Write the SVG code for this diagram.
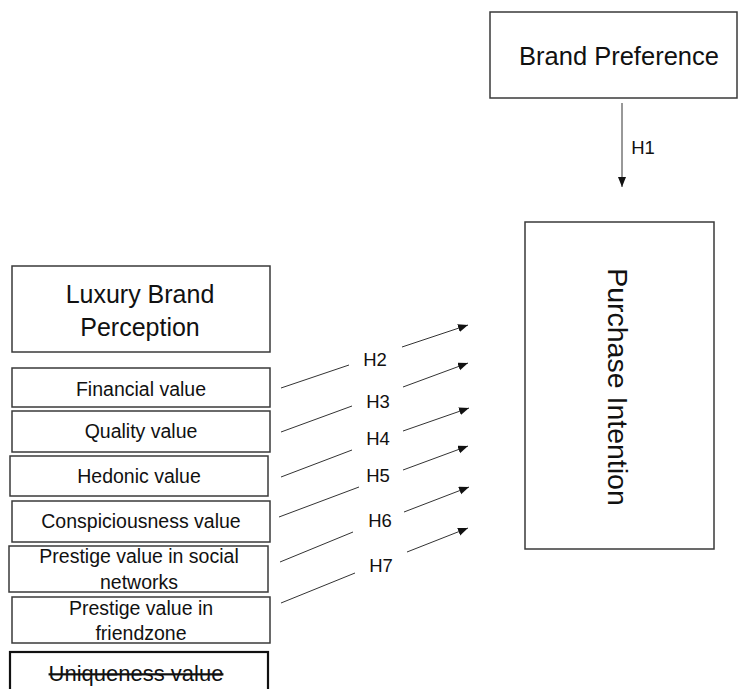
<svg xmlns="http://www.w3.org/2000/svg" width="739" height="689" viewBox="0 0 739 689">
<style>
.box{fill:#fff;stroke:#3a3a3a;stroke-width:1.5}
.t{font-family:"Liberation Sans",Arial,sans-serif;fill:#111;text-anchor:middle}
.s{font-size:19.5px}
.c{stroke:#333;stroke-width:1;fill:none}
.lab{font-family:"Liberation Sans",Arial,sans-serif;font-size:18.5px;fill:#111;text-anchor:middle}
</style>
<defs>
<marker id="ah" markerUnits="userSpaceOnUse" markerWidth="11" markerHeight="9" refX="10" refY="4" orient="auto">
<path d="M0,0 L10,4 L0,8 z" fill="#111"/>
</marker>
</defs>
<rect width="739" height="689" fill="#fff"/>
<g id="brand-preference">
<rect class="box" x="490" y="12" width="247" height="86"/>
<text class="t" x="619" y="65" font-size="25.5">Brand Preference</text>
</g>
<g id="purchase-intention">
<rect class="box" x="525" y="222" width="189" height="327"/>
<text class="t" x="608" y="387" font-size="28.5" transform="rotate(90 608 387)">Purchase Intention</text>
</g>
<g id="luxury-brand-perception">
<rect class="box" x="12" y="266" width="258" height="86"/>
<text class="t" x="140" y="303" font-size="25">Luxury Brand</text>
<text class="t" x="140" y="336" font-size="25">Perception</text>
</g>
<g id="financial-value">
<rect class="box" x="12" y="368" width="258" height="39"/>
<text class="t s" x="141" y="396">Financial value</text>
</g>
<g id="quality-value">
<rect class="box" x="12" y="411" width="258" height="41"/>
<text class="t s" x="141" y="438">Quality value</text>
</g>
<g id="hedonic-value">
<rect class="box" x="10" y="456" width="258" height="40"/>
<text class="t s" x="139" y="483">Hedonic value</text>
</g>
<g id="conspiciousness-value">
<rect class="box" x="12" y="501" width="258" height="41"/>
<text class="t s" x="141" y="528">Conspiciousness value</text>
</g>
<g id="prestige-social">
<rect class="box" x="9" y="546" width="259" height="46"/>
<text class="t s" x="139" y="563">Prestige value in social</text>
<text class="t s" x="139" y="589">networks</text>
</g>
<g id="prestige-friendzone">
<rect class="box" x="12" y="597" width="258" height="46"/>
<text class="t s" x="141" y="615">Prestige value in</text>
<text class="t s" x="141" y="640">friendzone</text>
</g>
<g id="uniqueness-value">
<rect x="10" y="652" width="258" height="50" fill="#fff" stroke="#111" stroke-width="2.2"/>
<text class="t" x="136" y="681" font-size="22" text-decoration="line-through">Uniqueness value</text>
</g>
<g id="connectors">
<line class="c" x1="622" y1="103" x2="622" y2="187" marker-end="url(#ah)"/>
<line class="c" x1="281" y1="388" x2="349" y2="365"/>
<line class="c" x1="402" y1="347" x2="468" y2="325" marker-end="url(#ah)"/>
<line class="c" x1="281" y1="432" x2="352" y2="406"/>
<line class="c" x1="403" y1="387" x2="468" y2="363" marker-end="url(#ah)"/>
<line class="c" x1="281" y1="477" x2="352" y2="450"/>
<line class="c" x1="403" y1="431" x2="469" y2="408" marker-end="url(#ah)"/>
<line class="c" x1="279" y1="517" x2="359" y2="487"/>
<line class="c" x1="403" y1="470" x2="468" y2="446" marker-end="url(#ah)"/>
<line class="c" x1="280" y1="562" x2="353" y2="532"/>
<line class="c" x1="404" y1="512" x2="469" y2="487" marker-end="url(#ah)"/>
<line class="c" x1="281" y1="603" x2="355" y2="573"/>
<line class="c" x1="407" y1="552" x2="468" y2="528" marker-end="url(#ah)"/>
</g>
<g id="labels">
<text class="lab" x="643" y="154">H1</text>
<text class="lab" x="375" y="366">H2</text>
<text class="lab" x="378" y="408">H3</text>
<text class="lab" x="378" y="445">H4</text>
<text class="lab" x="378" y="482">H5</text>
<text class="lab" x="380" y="527">H6</text>
<text class="lab" x="381" y="572">H7</text>
</g>
</svg>
